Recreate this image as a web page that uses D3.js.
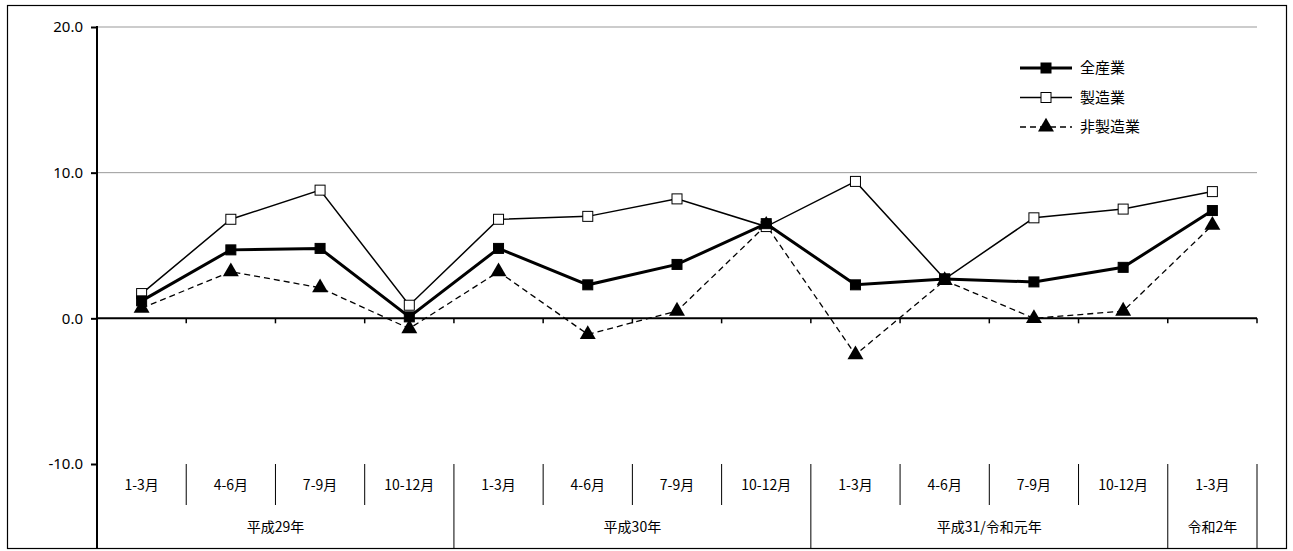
<!DOCTYPE html>
<html><head><meta charset="utf-8">
<script src="https://cdn.jsdelivr.net/npm/d3@7"></script>
<style>body{margin:0;background:#fff}text{font-family:"Noto Sans CJK JP",sans-serif;font-size:14px}</style>
</head><body><svg id="c" width="1293" height="551"></svg>
<script>
const months = ["1-3月","4-6月","7-9月","10-12月","1-3月","4-6月","7-9月","10-12月","1-3月","4-6月","7-9月","10-12月","1-3月"];
const years = [{name:"平成29年",n:4},{name:"平成30年",n:4},{name:"平成31/令和元年",n:4},{name:"令和2年",n:1}];
const allIndustry = [1.2,4.7,4.8,0.1,4.8,2.3,3.7,6.5,2.3,2.7,2.5,3.5,7.4];
const manufacturing = [1.7,6.8,8.8,0.9,6.8,7.0,8.2,6.3,9.4,2.7,6.9,7.5,8.7];
const nonManufacturing = [0.7,3.2,2.1,-0.7,3.2,-1.1,0.5,6.4,-2.5,2.6,0.0,0.5,6.4];
const yTicks = [-10,0,10,20];

const svg = d3.select("#c");
svg.append("rect").attr("x",7.5).attr("y",5.5).attr("width",1279).attr("height",543)
  .attr("fill","none").attr("stroke","#000").attr("stroke-width",1.2);
const L=97,R=1257,T=27,B=464;
const x = d3.scaleBand().domain(d3.range(months.length)).range([L,R]);
const y = d3.scaleLinear().domain([-10,20]).range([B,T]);

// grid
svg.selectAll(".g").data([10,20]).join("line")
  .attr("x1",L).attr("x2",R).attr("y1",d=>y(d)).attr("y2",d=>y(d)).attr("stroke","#999");
// y axis
const ya = svg.append("g").attr("transform",`translate(${L},0)`)
  .call(d3.axisLeft(y).tickValues(yTicks).tickFormat(d=>d.toFixed(1)).tickSize(6).tickPadding(8));
ya.select(".domain").remove();
ya.selectAll("line").attr("stroke-width",2);
ya.selectAll("text").style("font-family","'Noto Sans', sans-serif").style("font-size","15px").attr("fill","#000");
svg.append("line").attr("x1",L).attr("x2",L).attr("y1",T-1).attr("y2",548).attr("stroke","#000").attr("stroke-width",2);
// zero axis
svg.append("line").attr("x1",L).attr("x2",R).attr("y1",y(0)).attr("y2",y(0)).attr("stroke","#000").attr("stroke-width",2);
svg.selectAll(".zt").data(d3.range(months.length+1)).join("line")
  .attr("x1",i=>L+i*x.step()).attr("x2",i=>L+i*x.step()).attr("y1",y(0)).attr("y2",y(0)+5).attr("stroke","#000").attr("stroke-width",1.5);
// month row
svg.selectAll(".mv").data(d3.range(1,months.length+1)).join("line")
  .attr("x1",i=>L+i*x.step()).attr("x2",i=>L+i*x.step()).attr("y1",B).attr("y2",505).attr("stroke","#000");
svg.selectAll(".mt").data(months).join("text")
  .attr("x",(d,i)=>x(i)+x.bandwidth()/2).attr("y",490).attr("text-anchor","middle").text(d=>d);
// year row
let acc=0;
years.forEach(g=>{
  const x0=L+acc*x.step(); acc+=g.n; const x1=L+acc*x.step();
  svg.append("line").attr("x1",x1).attr("x2",x1).attr("y1",505).attr("y2",548).attr("stroke","#000");
  svg.append("text").attr("x",(x0+x1)/2).attr("y",532).attr("text-anchor","middle").text(g.name);
});

const cx = i=>x(i)+x.bandwidth()/2;
const line = d3.line().x((d,i)=>cx(i)).y(d=>y(d));
const series = [
  {name:"全産業",data:allIndustry,w:3,dash:null,mark:"sq",fill:"#000"},
  {name:"製造業",data:manufacturing,w:1.5,dash:null,mark:"sq",fill:"#fff"},
  {name:"非製造業",data:nonManufacturing,w:1.3,dash:"6,4",mark:"tri",fill:"#000"}
];
const tri = d3.symbol().type(d3.symbolTriangle).size(110);
function mark(g,s,px,py){
  if(s.mark==="sq") g.append("rect").attr("x",px-5).attr("y",py-5).attr("width",10).attr("height",10)
      .attr("fill",s.fill).attr("stroke","#000").attr("stroke-width",1);
  else g.append("path").attr("d",tri).attr("transform",`translate(${px},${py})`).attr("fill","#000");
}
[series[2],series[1],series[0]].forEach(s=>{
  svg.append("path").attr("d",line(s.data)).attr("fill","none").attr("stroke","#000")
    .attr("stroke-width",s.w).attr("stroke-dasharray",s.dash);
  const g=svg.append("g");
  s.data.forEach((v,i)=>mark(g,s,cx(i),y(v)));
});
// legend
series.forEach((s,i)=>{
  const ly=68+i*29.5;
  svg.append("line").attr("x1",1020).attr("x2",1072).attr("y1",ly).attr("y2",ly).attr("stroke","#000")
    .attr("stroke-width",s.w).attr("stroke-dasharray",s.dash);
  mark(svg,s,1046,ly);
  svg.append("text").attr("x",1080).attr("y",ly+5).style("font-size","15px").text(s.name);
});
</script></body></html>
